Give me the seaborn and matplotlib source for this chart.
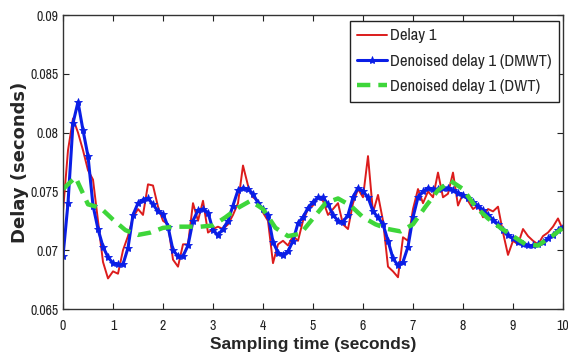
import numpy as np
import pandas as pd
import matplotlib
matplotlib.use("Agg")
import matplotlib.pyplot as plt
import seaborn as sns

# ---- data ----
t_fine = [round(0.1 * i, 1) for i in range(101)]
delay1 = [0.0733, 0.0785, 0.0812, 0.0800, 0.0785, 0.0768, 0.0760, 0.0725, 0.0690, 0.0676,
          0.0682, 0.0680, 0.0700, 0.0712, 0.0728, 0.0735, 0.0730, 0.0756, 0.0755, 0.0737,
          0.0725, 0.0722, 0.0692, 0.0686, 0.0705, 0.0705, 0.0740, 0.0725, 0.0742, 0.0715,
          0.0718, 0.0720, 0.0718, 0.0722, 0.0730, 0.0740, 0.0772, 0.0755, 0.0745, 0.0742,
          0.0732, 0.0725, 0.0689, 0.0705, 0.0708, 0.0704, 0.0712, 0.0708, 0.0725, 0.0735,
          0.0738, 0.0745, 0.0742, 0.0730, 0.0735, 0.0740, 0.0722, 0.0718, 0.0740, 0.0752,
          0.0745, 0.0780, 0.0732, 0.0747, 0.0725, 0.0686, 0.0682, 0.0677, 0.0711, 0.0708,
          0.0735, 0.0752, 0.0740, 0.0750, 0.0745, 0.0766, 0.0745, 0.0748, 0.0766, 0.0738,
          0.0748, 0.0742, 0.0735, 0.0738, 0.0728, 0.0735, 0.0733, 0.0737, 0.0715, 0.0696,
          0.0708, 0.0705, 0.0718, 0.0712, 0.0708, 0.0705, 0.0712, 0.0715, 0.0720, 0.0727,
          0.0717]
dmwt = [0.0695, 0.0740, 0.0808, 0.0826, 0.0802, 0.0780, 0.0738, 0.0718, 0.0703, 0.0694,
        0.0689, 0.0688, 0.0688, 0.0702, 0.0730, 0.0740, 0.0743, 0.0744, 0.0739, 0.0733,
        0.0731, 0.0720, 0.0700, 0.0695, 0.0695, 0.0704, 0.0725, 0.0734, 0.0735, 0.0732,
        0.0717, 0.0713, 0.0718, 0.0725, 0.0738, 0.0751, 0.0753, 0.0752, 0.0748, 0.0740,
        0.0735, 0.0730, 0.0707, 0.0698, 0.0696, 0.0699, 0.0708, 0.0723, 0.0728, 0.0736,
        0.0741, 0.0745, 0.0745, 0.0739, 0.0730, 0.0725, 0.0724, 0.0730, 0.0745, 0.0753,
        0.0750, 0.0745, 0.0733, 0.0728, 0.0722, 0.0708, 0.0693, 0.0687, 0.0690, 0.0703,
        0.0728, 0.0745, 0.0750, 0.0753, 0.0752, 0.0752, 0.0753, 0.0753, 0.0751, 0.0749,
        0.0747, 0.0744, 0.0741, 0.0738, 0.0734, 0.0730, 0.0726, 0.0722, 0.0717, 0.0713,
        0.0710, 0.0707, 0.0705, 0.0704, 0.0704, 0.0705, 0.0707, 0.0710, 0.0713, 0.0717,
        0.0720]
t_coarse = [0.25 * i for i in range(41)]
dwt = [0.0752, 0.0762, 0.0739, 0.0736, 0.0726, 0.0717, 0.0713, 0.0715, 0.0719, 0.0720,
       0.0720, 0.0720, 0.0721, 0.0728, 0.0736, 0.0742, 0.0735, 0.0719, 0.0712, 0.0714,
       0.0727, 0.0740, 0.0744, 0.0738, 0.0728, 0.0722, 0.0718, 0.0716, 0.0722, 0.0737,
       0.0751, 0.0759, 0.0752, 0.0737, 0.0727, 0.0719, 0.0712, 0.0705, 0.0704, 0.0711,
       0.0719]
labels = ["Delay 1", "Denoised delay 1 (DMWT)", "Denoised delay 1 (DWT)"]
xticks = list(range(0, 11))
yticks = [0.065, 0.07, 0.075, 0.08, 0.085, 0.09]
ytick_labels = ["0.065", "0.07", "0.075", "0.08", "0.085", "0.09"]

# ---- plot ----
sns.set_style("ticks")
narrow = ["Archivo Narrow", "DejaVu Sans"]
plt.rcParams["font.family"] = narrow

fig = plt.figure(figsize=(5.68, 3.56), dpi=100)
ax = fig.add_axes([63 / 568, 1 - 309 / 356, 500 / 568, 294 / 356])

df_red = pd.DataFrame({"t": t_fine, "v": delay1})
df_blue = pd.DataFrame({"t": t_fine, "v": dmwt})
df_green = pd.DataFrame({"t": t_coarse, "v": dwt})

sns.lineplot(data=df_red, x="t", y="v", ax=ax, color="#dc1c1c", lw=1.4, label=labels[0])
sns.lineplot(data=df_blue, x="t", y="v", ax=ax, color="#0a1ee6", lw=2.2, marker="*",
             markersize=6, markeredgewidth=0.6, markeredgecolor="#0a1ee6", label=labels[1])
sns.lineplot(data=df_green, x="t", y="v", ax=ax, color="#3ed63a", lw=3.2, label=labels[2],
             dashes=False)
ax.lines[-1].set_dashes([3, 1.8])

ax.set_xlim(0, 10)
ax.set_ylim(0.065, 0.09)
ax.set_xticks(xticks)
ax.set_yticks(yticks)
ax.set_yticklabels(ytick_labels)
ax.tick_params(direction="in", top=True, right=True, length=4, width=0.8,
               labelsize=10, colors="#222222")
ax.tick_params(axis="x", pad=7)
ax.tick_params(axis="y", pad=3)
for s in ax.spines.values():
    s.set_linewidth(1.0)
    s.set_color("#333333")
ax.set_xlabel("Sampling time (seconds)", fontsize=12.5, fontweight="bold",
              family=["Liberation Sans", "DejaVu Sans"], labelpad=3)
ax.set_ylabel("Delay (seconds)", fontsize=13, fontweight="bold",
              family=["DejaVu Sans"], labelpad=1)

leg = ax.legend(loc="upper right", bbox_to_anchor=(0.992, 0.98), fontsize=12,
                frameon=True, fancybox=False, borderpad=0.45, handlelength=1.75,
                handletextpad=0.2, labelspacing=0.62, borderaxespad=0.0)
leg.get_frame().set_edgecolor("#222222")
leg.get_frame().set_linewidth(1.0)
leg.get_frame().set_alpha(1.0)

fig.savefig("out.png", dpi=100)
